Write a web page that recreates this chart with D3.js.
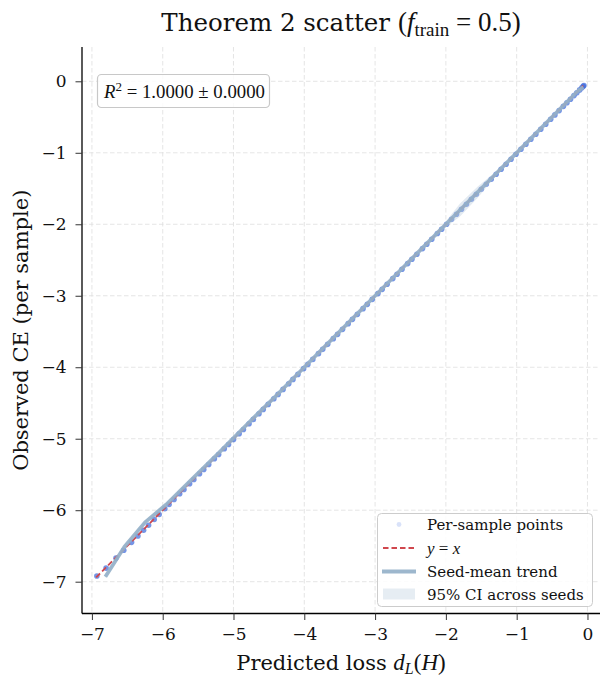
<!DOCTYPE html>
<html><head><meta charset="utf-8">
<script src="https://cdn.jsdelivr.net/npm/d3@7"></script>
<style>
body{margin:0;background:#fff;}
svg{display:block;}
</style></head>
<body>
<svg id="c" width="600" height="679"></svg>
<script>
// ---------------- data ----------------
const xTicks = [-7,-6,-5,-4,-3,-2,-1,0];
const yTicks = [-7,-6,-5,-4,-3,-2,-1,0];

// per-sample points (predicted loss, observed CE)
const sampleX = [-6.93,-6.80,-6.66,-6.55,-6.44,-6.35,-6.27,-6.20,-6.12,-6.05,-5.97,-5.91,-5.84,-5.76,-5.70,-5.62,-5.56,-5.48,-5.42,-5.35,-5.27,-5.21,-5.13,-5.07,-5.00,-4.92,-4.86,-4.78,-4.72,-4.64,-4.58,-4.51,-4.43,-4.37,-4.30,-4.22,-4.16,-4.09,-4.01,-3.95,-3.88,-3.80,-3.74,-3.67,-3.59,-3.53,-3.46,-3.38,-3.32,-3.25,-3.17,-3.11,-3.04,-2.96,-2.90,-2.83,-2.75,-2.69,-2.62,-2.54,-2.48,-2.41,-2.33,-2.27,-2.20,-2.12,-2.06,-1.99,-1.92,-1.85,-1.78,-1.71,-1.64,-1.57,-1.50,-1.43,-1.36,-1.29,-1.22,-1.15,-1.08,-1.01,-0.94,-0.87,-0.80,-0.73,-0.66,-0.59,-0.52,-0.46,-0.40,-0.34,-0.29,-0.24,-0.19,-0.15,-0.11,-0.08,-0.06,-0.05];
const sampleY = [-6.92,-6.81,-6.67,-6.56,-6.45,-6.36,-6.28,-6.21,-6.13,-6.06,-5.98,-5.92,-5.85,-5.77,-5.71,-5.63,-5.57,-5.49,-5.43,-5.36,-5.28,-5.22,-5.14,-5.08,-5.01,-4.93,-4.87,-4.79,-4.73,-4.65,-4.59,-4.52,-4.44,-4.38,-4.31,-4.23,-4.17,-4.10,-4.02,-3.96,-3.89,-3.81,-3.75,-3.68,-3.60,-3.54,-3.47,-3.39,-3.33,-3.26,-3.18,-3.12,-3.05,-2.97,-2.91,-2.84,-2.76,-2.70,-2.63,-2.55,-2.49,-2.42,-2.34,-2.28,-2.21,-2.13,-2.07,-2.00,-1.93,-1.86,-1.79,-1.72,-1.65,-1.58,-1.51,-1.44,-1.37,-1.30,-1.23,-1.16,-1.09,-1.02,-0.95,-0.88,-0.81,-0.74,-0.67,-0.60,-0.53,-0.47,-0.41,-0.35,-0.30,-0.25,-0.20,-0.16,-0.12,-0.09,-0.07,-0.06];

// seed-mean trend and 95% CI
const trendX  = [-6.81,-6.54,-6.25,-5.95,-5.60,-5.20,-4.80,-4.40,-4.00,-3.60,-3.20,-2.80,-2.40,-2.05,-1.80,-1.55,-1.30,-1.00,-0.70,-0.40,-0.15,-0.06];
const trendY  = [-6.93,-6.51,-6.17,-5.92,-5.58,-5.19,-4.79,-4.40,-4.00,-3.60,-3.20,-2.80,-2.40,-2.05,-1.80,-1.55,-1.30,-1.00,-0.70,-0.40,-0.15,-0.08];
const ciLo    = [-6.95,-6.53,-6.19,-5.94,-5.60,-5.21,-4.81,-4.42,-4.02,-3.62,-3.22,-2.82,-2.42,-2.08,-1.89,-1.63,-1.33,-1.02,-0.72,-0.42,-0.17,-0.10];
const ciHi    = [-6.91,-6.49,-6.15,-5.90,-5.56,-5.17,-4.77,-4.38,-3.98,-3.58,-3.18,-2.78,-2.38,-2.02,-1.71,-1.47,-1.27,-0.98,-0.68,-0.38,-0.13,-0.06];

const refLine = [-6.94,-0.06];
const legendLabels = ["Per-sample points","y = x","Seed-mean trend","95% CI across seeds"];

// ---------------- layout ----------------
const svg = d3.select("#c");
const L = 82, R = 600, T = 47, B = 613.5;
const x = d3.scaleLinear().domain([-7.14, 0.177]).range([L, R]);
const y = d3.scaleLinear().domain([-7.445, 0.48]).range([B, T]);

const SERIF = "'DejaVu Serif', serif";
const MATH = "'Liberation Serif', 'Times New Roman', serif";
const gridCol = "#dedede";

// grid
const grid = svg.append("g");
grid.selectAll("line.gx").data(xTicks).join("line")
  .attr("x1", d => x(d)).attr("x2", d => x(d)).attr("y1", T).attr("y2", B)
  .attr("stroke", gridCol).attr("stroke-width", 0.8).attr("stroke-dasharray", "4.5,2.5");
grid.selectAll("line.gy").data(yTicks).join("line")
  .attr("x1", L).attr("x2", R).attr("y1", d => y(d)).attr("y2", d => y(d))
  .attr("stroke", gridCol).attr("stroke-width", 0.8).attr("stroke-dasharray", "4.5,2.5");

// per-sample points
svg.append("g").selectAll("circle").data(sampleX).join("circle")
  .attr("cx", d => x(d)).attr("cy", (d,i) => y(sampleY[i])).attr("r", 2.8)
  .attr("fill", "#3a68dc").attr("fill-opacity", 0.7);

// y = x
svg.append("line")
  .attr("x1", x(refLine[0])).attr("y1", y(refLine[0]))
  .attr("x2", x(refLine[1])).attr("y2", y(refLine[1]))
  .attr("stroke", "#d0474d").attr("stroke-width", 1.8).attr("stroke-dasharray", "5.5,3");

// CI band
const band = d3.area().x((d,i) => x(trendX[i])).y0((d,i) => y(ciLo[i])).y1((d,i) => y(ciHi[i])).curve(d3.curveLinear);
svg.append("path").datum(trendX).attr("d", band).attr("fill", "#b8cbdc").attr("fill-opacity", 0.4);

// trend line
const ln = d3.line().x((d,i) => x(trendX[i])).y((d,i) => y(trendY[i]));
svg.append("path").datum(trendX).attr("d", ln).attr("fill", "none")
  .attr("stroke", "#92afc8").attr("stroke-opacity", 0.9).attr("stroke-width", 3.8)
  .attr("stroke-linejoin", "round");

// axes
const xAxis = svg.append("g").attr("transform", `translate(0,${B})`)
  .call(d3.axisBottom(x).tickValues(xTicks).tickSize(6.5).tickPadding(8).tickFormat(d => d < 0 ? "\u2212" + Math.abs(d) : d));
const yAxis = svg.append("g").attr("transform", `translate(${L},0)`)
  .call(d3.axisLeft(y).tickValues(yTicks).tickSize(6.5).tickPadding(9).tickFormat(d => d < 0 ? "\u2212" + Math.abs(d) : d));
[xAxis, yAxis].forEach(g => {
  g.select(".domain").attr("stroke", "#000").attr("stroke-width", 1.3);
  g.selectAll(".tick line").attr("stroke", "#333").attr("stroke-width", 1);
  g.selectAll(".tick text").attr("font-family", SERIF).attr("font-size", 17).attr("fill", "#111");
});
xAxis.select(".domain").attr("d", `M${L},0H${R}`);
yAxis.select(".domain").attr("d", `M0,${T}V${B}`);

// title
const title = svg.append("text").attr("x", 341).attr("y", 31).attr("text-anchor", "middle")
  .attr("font-family", SERIF).attr("font-size", 24.5).attr("fill", "#111");
title.append("tspan").text("Theorem 2 scatter ");
title.append("tspan").attr("font-family", MATH).attr("font-size", 27).text("(");
title.append("tspan").attr("font-family", MATH).attr("font-style", "italic").attr("font-size", 27).text("f");
title.append("tspan").attr("font-family", MATH).attr("font-size", 19).attr("dy", 5).text("train");
title.append("tspan").attr("font-family", MATH).attr("font-size", 27).attr("dy", -5).text(" = 0.5)");

// x label
const xl = svg.append("text").attr("x", 341).attr("y", 670).attr("text-anchor", "middle")
  .attr("font-family", SERIF).attr("font-size", 21).attr("fill", "#111");
xl.append("tspan").text("Predicted loss ");
xl.append("tspan").attr("font-family", MATH).attr("font-style", "italic").attr("font-size", 23).text("d");
xl.append("tspan").attr("font-family", MATH).attr("font-style", "italic").attr("font-size", 16).attr("dy", 4).text("L");
xl.append("tspan").attr("font-family", MATH).attr("font-size", 23).attr("dy", -4).text("(");
xl.append("tspan").attr("font-family", MATH).attr("font-style", "italic").attr("font-size", 23).text("H");
xl.append("tspan").attr("font-family", MATH).attr("font-size", 23).text(")");

// y label
svg.append("text").attr("transform", `translate(28,${(T+B)/2}) rotate(-90)`).attr("text-anchor", "middle")
  .attr("font-family", SERIF).attr("font-size", 21).attr("fill", "#111").text("Observed CE (per sample)");

// R^2 box
svg.append("rect").attr("x", 97.5).attr("y", 74.5).attr("width", 172).attr("height", 33).attr("rx", 4)
  .attr("fill", "#fff").attr("fill-opacity", 0.85).attr("stroke", "#c8c8c8").attr("stroke-width", 1.2);
const rt = svg.append("text").attr("x", 104).attr("y", 97.5).attr("font-family", MATH).attr("font-size", 18.8).attr("fill", "#111");
rt.append("tspan").attr("font-style", "italic").text("R");
rt.append("tspan").attr("font-size", 13).attr("dy", -7).text("2");
rt.append("tspan").attr("dy", 7).text(" = 1.0000 \u00b1 0.0000");

// legend
const lg = svg.append("g");
lg.append("rect").attr("x", 377.5).attr("y", 513.5).attr("width", 215).attr("height", 93).attr("rx", 4)
  .attr("fill", "#fff").attr("fill-opacity", 0.85).attr("stroke", "#cccccc").attr("stroke-width", 1);
const rowY = [524.5, 548, 571.5, 594];
lg.append("circle").attr("cx", 399).attr("cy", rowY[0]).attr("r", 2.4).attr("fill", "#3f6fe0").attr("fill-opacity", 0.2);
lg.append("line").attr("x1", 383).attr("x2", 415).attr("y1", rowY[1]).attr("y2", rowY[1])
  .attr("stroke", "#d0474d").attr("stroke-width", 1.8).attr("stroke-dasharray", "5.5,3");
lg.append("line").attr("x1", 382).attr("x2", 416).attr("y1", rowY[2]).attr("y2", rowY[2])
  .attr("stroke", "#92afc8").attr("stroke-opacity", 0.9).attr("stroke-width", 3.8);
lg.append("rect").attr("x", 383).attr("y", rowY[3]-5.5).attr("width", 32).attr("height", 11)
  .attr("fill", "#b8cbdc").attr("fill-opacity", 0.35);
legendLabels.forEach((t, i) => {
  const tx = lg.append("text").attr("x", 427).attr("y", rowY[i] + 5.5).attr("font-family", SERIF)
    .attr("font-size", 15).attr("fill", "#111");
  if (i === 1) {
    tx.attr("font-family", MATH).attr("font-size", 17);
    tx.append("tspan").attr("font-style", "italic").text("y");
    tx.append("tspan").text(" = ");
    tx.append("tspan").attr("font-style", "italic").text("x");
  } else tx.text(t);
});
</script>
</body></html>
